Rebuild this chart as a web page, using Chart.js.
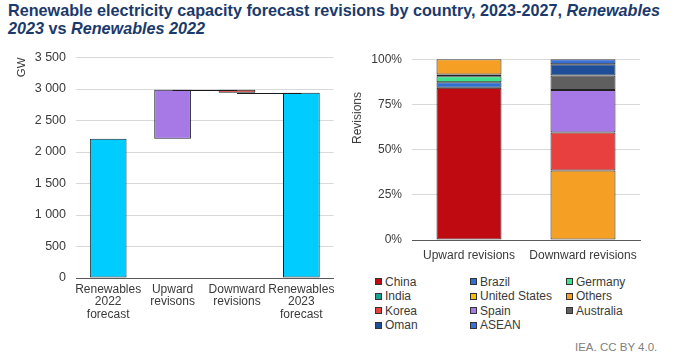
<!DOCTYPE html>
<html>
<head>
<meta charset="utf-8">
<script src="https://cdn.jsdelivr.net/npm/chart.js@4.4.0/dist/chart.umd.min.js"></script>
<style>
  html, body { margin:0; padding:0; background:#fff; }
  body { width:680px; height:360px; position:relative; overflow:hidden; font-family:"Liberation Sans", Arial, sans-serif; }
  #title { position:absolute; left:8px; top:2px; width:672px; font-size:16.2px; font-weight:bold; color:#1b3a6b; line-height:17.5px; }
  #leftWrap { position:absolute; left:0; top:40px; width:340px; height:290px; }
  #rightWrap { position:absolute; left:345px; top:42px; width:330px; height:226px; }
  #ytitle2 { position:absolute; left:357px; top:118px; transform:translate(-50%,-50%) rotate(-90deg); font-size:12px; color:#3a3a3a; white-space:nowrap; }
  #legend { position:absolute; left:375px; top:275px; display:grid; grid-template-columns:95px 96px 100px; row-gap:1px; font-size:12px; color:#3a3a3a; }
  #legend .it { display:flex; align-items:center; height:13.5px; white-space:nowrap; }
  #legend .bx { width:5px; height:5px; border:1px solid #333; margin-right:3px; flex:none; }
  #footer { position:absolute; left:575px; top:341px; font-size:11.5px; color:#808080; }
</style>
</head>
<body>
<div id="title">Renewable electricity capacity forecast revisions by country, 2023-2027, <i>Renewables 2023</i> vs <i>Renewables 2022</i></div>
<div id="leftWrap"><canvas id="c1"></canvas></div>
<div id="rightWrap"><canvas id="c2"></canvas></div>
<div id="ytitle2">Revisions</div>
<div id="legend"></div>
<div id="footer">IEA. CC BY 4.0.</div>
<script>
// ---- Left chart data (GW) ----
const wfCategories = [["Renewables","2022","forecast"],["Upward","revisons"],["Downward","revisions"],["Renewables","2023","forecast"]];
const forecast2022 = 2210;
const upwardRevisions = 780;
const downwardRevisions = 50;
const forecast2023 = 2940;
const gwTicks = [0,500,1000,1500,2000,2500,3000,3500];

// ---- Right chart data (%) ----
const revCategories = ["Upward revisions","Downward revisions"];
const countries = ["China","Brazil","Germany","India","United States","Others","Korea","Spain","Australia","Oman","ASEAN"];
const china        = [84.2, 0];
const brazil       = [3.1, 0];
const germany      = [3.3, 0];
const india        = [1.0, 0];
const unitedStates = [0, 0];
const others       = [8.4, 38.4];
const korea        = [0, 21.0];
const spain        = [0, 23.6];
const australia    = [0, 8.0];
const oman         = [0, 6.2];
const asean        = [0, 2.8];
const pctTicks = [0,25,50,75,100];

const countryColors = ["#c00a12","#2f6fd0","#3ee38c","#17a38f","#f2c500","#f5a024","#e8403f","#a679e6","#5f5f5f","#1f4e99","#3a6fd8"];
const countrySeries = [china,brazil,germany,india,unitedStates,others,korea,spain,australia,oman,asean];

const FONT = "'Liberation Sans', Arial, sans-serif";
const TXT = "#3a3a3a";
Chart.defaults.font.family = FONT;
Chart.defaults.font.size = 12;
Chart.defaults.color = TXT;
Chart.defaults.animation = false;

const fmt = v => String(v).replace(/\B(?=(\d{3})+(?!\d))/g, " ");

// Waterfall floating bars built from values
const upTop = forecast2022 + upwardRevisions;
const downBottom = upTop - downwardRevisions;
const wfData = [[0, forecast2022],[forecast2022, upTop],[downBottom, upTop],[0, forecast2023]];
const connectorLevels = [null, upTop, downBottom, null];

const connectorPlugin = {
  id: 'connectors',
  afterDatasetsDraw(chart) {
    const meta = chart.getDatasetMeta(0);
    const ys = chart.scales.y;
    const ctx = chart.ctx;
    ctx.save();
    ctx.strokeStyle = '#1a1a1a';
    ctx.lineWidth = 1;
    for (let i = 0; i < connectorLevels.length - 1; i++) {
      if (connectorLevels[i] == null) continue;
      const y = Math.round(ys.getPixelForValue(connectorLevels[i])) + 0.5;
      ctx.beginPath();
      ctx.moveTo(meta.data[i].x, y);
      ctx.lineTo(meta.data[i+1].x, y);
      ctx.stroke();
    }
    ctx.restore();
  }
};

new Chart(document.getElementById('c1'), {
  type: 'bar',
  data: {
    labels: wfCategories,
    datasets: [{
      data: wfData,
      backgroundColor: ['#00ccff','#a679e6','#e0403a','#00ccff'],
      borderColor: '#1a2327',
      borderWidth: 1,
      borderSkipped: false,
      categoryPercentage: 1,
      barPercentage: 0.57
    }]
  },
  options: {
    responsive: true, maintainAspectRatio: false,
    layout: { padding: { top: 0, right: 5, left: 0, bottom: 0 } },
    plugins: { legend: { display: false }, tooltip: { enabled: false } },
    scales: {
      x: {
        grid: { display: false, drawTicks: false },
        border: { display: true, color: '#595959', width: 1 },
        ticks: { autoSkip: false, padding: 5, maxRotation: 0, font: { size: 12, lineHeight: 1.05 }, color: TXT },
        afterFit(s) { s.height = 52; }
      },
      y: {
        min: 0, max: 3500,
        afterBuildTicks(s) { s.ticks = gwTicks.map(v => ({ value: v })); },
        grid: { color: '#d9d9d9', drawTicks: false },
        border: { display: false },
        ticks: { padding: 10, callback: v => fmt(v), color: TXT, font: { size: 12.5 } },
        title: { display: true, text: 'GW', align: 'end', padding: { top: 15, bottom: 0 }, color: TXT, font: { size: 11.5 } },
        afterFit(s) { s.width = 76; }
      }
    }
  },
  plugins: [connectorPlugin]
});

const c2 = new Chart(document.getElementById('c2'), {
  type: 'bar',
  data: {
    labels: revCategories,
    datasets: countries.map((n, i) => ({
      label: n,
      data: countrySeries[i].map(v => v === 0 ? null : v),
      backgroundColor: countryColors[i],
      borderColor: '#222222',
      borderWidth: 1,
      borderSkipped: false,
      categoryPercentage: 1,
      barPercentage: 0.57
    }))
  },
  options: {
    responsive: true, maintainAspectRatio: false,
    layout: { padding: { top: 0, right: 35, left: 0, bottom: 0 } },
    plugins: { legend: { display: false }, tooltip: { enabled: false } },
    scales: {
      x: {
        stacked: true,
        grid: { display: false, drawTicks: false },
        border: { display: true, color: '#595959', width: 1 },
        ticks: { autoSkip: false, padding: 8, maxRotation: 0, color: TXT },
        afterFit(s) { s.height = 28; }
      },
      y: {
        stacked: true, min: 0, max: 100,
        afterBuildTicks(s) { s.ticks = pctTicks.map(v => ({ value: v })); },
        grid: { color: '#d9d9d9', drawTicks: false },
        border: { display: false },
        ticks: { padding: 10, callback: v => v + '%', color: TXT },
        afterFit(s) { s.width = 67; }
      }
    }
  }
});

// HTML legend from the chart's datasets (3 columns)
const lg = document.getElementById('legend');
c2.data.datasets.forEach(ds => {
  const it = document.createElement('div'); it.className = 'it';
  const bx = document.createElement('span'); bx.className = 'bx'; bx.style.background = ds.backgroundColor;
  const tx = document.createElement('span'); tx.textContent = ds.label;
  it.appendChild(bx); it.appendChild(tx); lg.appendChild(it);
});
</script>
</body>
</html>
